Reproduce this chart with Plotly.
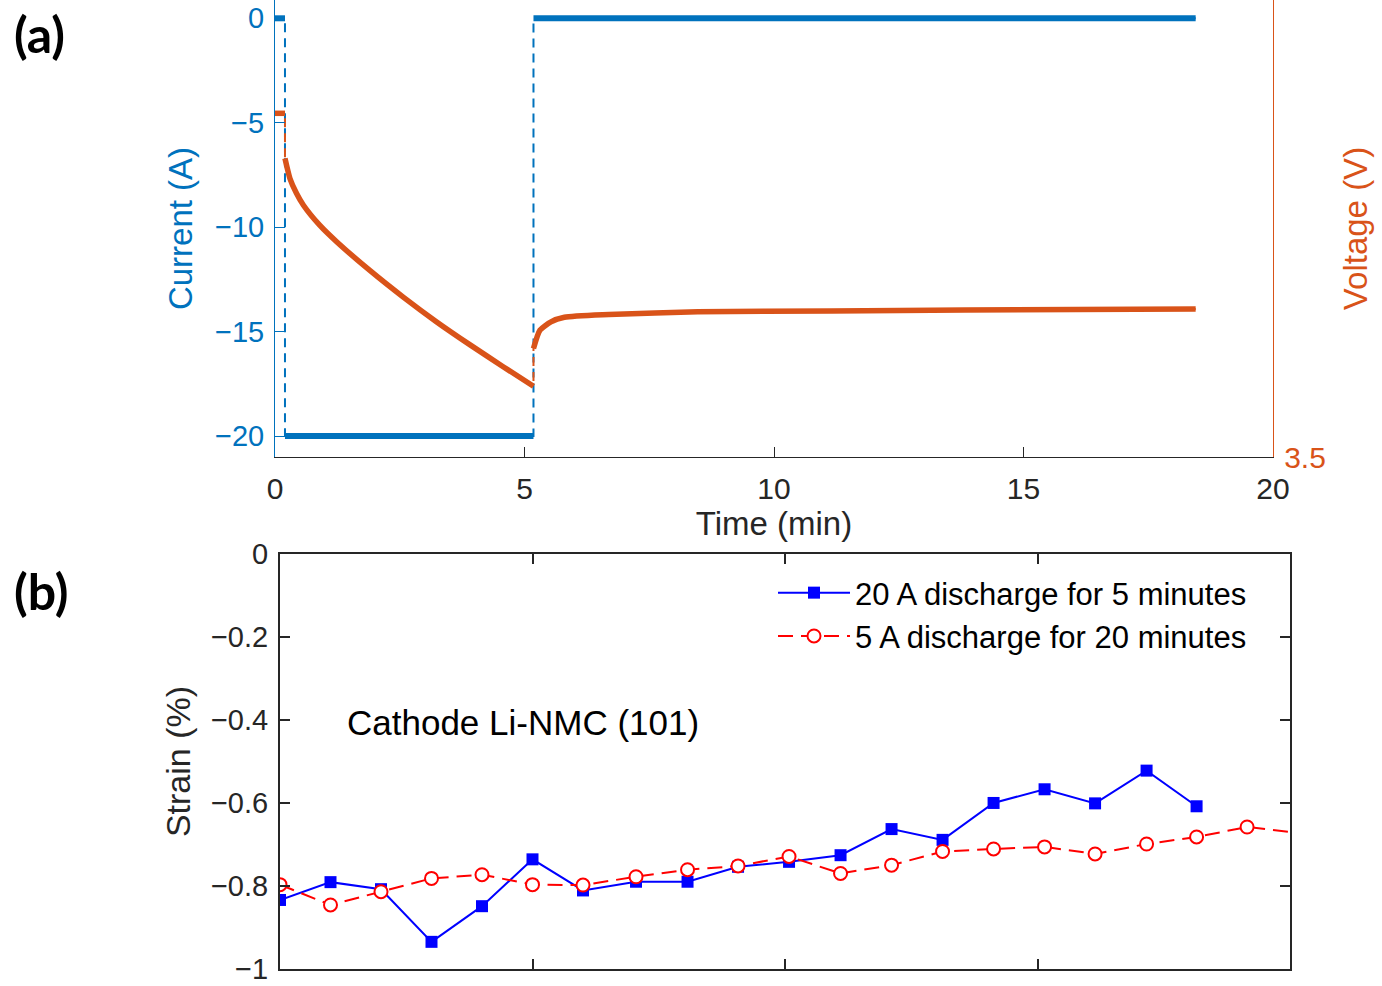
import plotly.graph_objects as go

# ---- (a) current / voltage profile -------------------------------------
cur_time = [0, 0.2, 0.2, 5.18, 5.18, 18.45]          # min
cur_amp = [0, 0, -20, -20, 0, 0]                     # A

volt_time = [0, 0.2, 0.2, 0.30, 0.43, 0.57, 0.90, 1.24, 1.90, 2.57, 3.24,
             3.91, 4.58, 5.18, 5.18, 5.31, 5.53, 5.80, 6.69, 8.47, 11.14,
             13.82, 18.45]
volt_val = [3.874, 3.874, 3.825, 3.803, 3.787, 3.774, 3.752, 3.734, 3.703,
            3.674, 3.647, 3.622, 3.598, 3.577, 3.618, 3.638, 3.647, 3.652,
            3.655, 3.658, 3.659, 3.660, 3.661]
# index ranges of the continuous stretches between current steps
volt_segments = [(0, 1), (2, 13), (14, 22)]

# ---- (b) lattice strain ------------------------------------------------
strain_time = [0, 1.0, 2.0, 3.0, 4.0, 5.0, 6.0, 7.05, 8.07, 9.07, 10.08,
               11.1, 12.11, 13.12, 14.13, 15.14, 16.14, 17.16, 18.15]
strain_20A = [-0.834, -0.791, -0.808, -0.935, -0.849, -0.736, -0.811, -0.790,
              -0.790, -0.754, -0.742, -0.726, -0.663, -0.689, -0.600, -0.567,
              -0.601, -0.522, -0.608]
strain_time_5A = strain_time + [19.15, 20.16]
strain_5A = [-0.797, -0.846, -0.814, -0.782, -0.773, -0.797, -0.798, -0.778,
             -0.761, -0.752, -0.729, -0.770, -0.750, -0.717, -0.711, -0.706,
             -0.723, -0.699, -0.682, -0.658, -0.672]
strain_ticks = [0, -0.2, -0.4, -0.6, -0.8, -1]

BLUE = "#0072BD"
ORANGE = "#D95319"
DARK = "#262626"
FONT = "Liberation Sans, Arial, sans-serif"

W, H = 1382, 986
def px_x(p):
    return p / W
def px_y(p):
    return 1 - p / H

fig = go.Figure()

# current: dashed connection through the steps, heavy line on the plateaus
fig.add_trace(go.Scatter(x=cur_time, y=cur_amp, mode="lines",
                         line=dict(color=BLUE, width=2, dash="9px,6px"),
                         xaxis="x", yaxis="y", showlegend=False))
seg_x, seg_y = [], []
for i in range(0, len(cur_time), 2):
    seg_x += [cur_time[i], cur_time[i + 1], None]
    seg_y += [cur_amp[i], cur_amp[i + 1], None]
fig.add_trace(go.Scatter(x=seg_x, y=seg_y, mode="lines",
                         line=dict(color=BLUE, width=6),
                         xaxis="x", yaxis="y", showlegend=False))

# voltage on the right-hand axis
fig.add_trace(go.Scatter(x=volt_time, y=volt_val, mode="lines",
                         line=dict(color=ORANGE, width=2, dash="9px,6px"),
                         xaxis="x", yaxis="y2", showlegend=False))
for a, b in volt_segments:
    fig.add_trace(go.Scatter(x=volt_time[a:b + 1], y=volt_val[a:b + 1],
                             mode="lines",
                             line=dict(color=ORANGE, width=5.5, shape="spline",
                                       smoothing=0.6),
                             xaxis="x", yaxis="y2", showlegend=False))

# strain series
fig.add_trace(go.Scatter(x=strain_time, y=strain_20A, mode="lines+markers",
                         name="20 A discharge for 5 minutes",
                         line=dict(color="#0000FF", width=2),
                         marker=dict(symbol="square", size=12, color="#0000FF"),
                         xaxis="x2", yaxis="y3"))
fig.add_trace(go.Scatter(x=strain_time_5A, y=strain_5A, mode="lines+markers",
                         name="5 A discharge for 20 minutes",
                         line=dict(color="#FF0000", width=2, dash="15px,8px"),
                         marker=dict(symbol="circle", size=13, color="white",
                                     line=dict(color="#FF0000", width=2)),
                         xaxis="x2", yaxis="y3"))

top_dom = [px_y(457), 1]
bot_dom = [px_y(969), px_y(554)]

fig.update_layout(
    width=W, height=H,
    margin=dict(l=0, r=0, t=0, b=0, autoexpand=False),
    paper_bgcolor="white", plot_bgcolor="white",
    font=dict(family=FONT, size=30, color=DARK),
    xaxis=dict(domain=[px_x(275), px_x(1273)], range=[0, 20],
               tickvals=[0, 5, 10, 15, 20], ticks="inside", ticklen=10,
               tickcolor=DARK, showline=True, linecolor=DARK, linewidth=1,
               showgrid=False, zeroline=False, anchor="y", automargin=False,
               tickfont=dict(size=30, color=DARK), ticklabelstandoff=5,
               title=dict(text="Time (min)", font=dict(size=33, color=DARK),
                          standoff=0)),
    yaxis=dict(domain=top_dom, range=[-21, 0.876],
               tickvals=[0, -5, -10, -15, -20], ticks="inside", ticklen=10,
               tickcolor=BLUE, showline=True, linecolor=BLUE, linewidth=1,
               showgrid=False, zeroline=False, anchor="x", automargin=False,
               tickfont=dict(size=29, color=BLUE), ticklabelstandoff=4,
               title=dict(text="Current (A)", font=dict(size=33, color=BLUE),
                          standoff=12)),
    yaxis2=dict(overlaying="y", side="right", range=[3.5, 3.9973],
                tickvals=[3.5, 4.0], ticktext=["3.5", "4"], ticks="inside",
                ticklen=10, tickcolor=ORANGE, showline=True,
                linecolor=ORANGE, linewidth=1.3, showgrid=False,
                zeroline=False, anchor="x", automargin=False,
                ticklabeloverflow="allow",
                tickfont=dict(size=30, color=ORANGE), ticklabelstandoff=4,
                title=dict(text="Voltage (V)", font=dict(size=33, color=ORANGE),
                           standoff=19)),
    xaxis2=dict(domain=[px_x(280), px_x(1290)], range=[0, 20],
                tickvals=[5, 10, 15], showticklabels=False, ticks="inside",
                ticklen=10, tickcolor=DARK, tickwidth=2, showline=True,
                linecolor=DARK, linewidth=2, mirror="ticks", showgrid=False,
                zeroline=False, anchor="y3", automargin=False),
    yaxis3=dict(domain=bot_dom, range=[-1.0005, 0.0005], tickvals=strain_ticks,
                ticks="inside", ticklabeloverflow="allow",
                ticklen=10, tickcolor=DARK, tickwidth=2, showline=True,
                linecolor=DARK, linewidth=2, mirror="ticks", showgrid=False,
                zeroline=False, anchor="x2", automargin=False,
                tickfont=dict(size=29, color=DARK), ticklabelstandoff=4,
                title=dict(text="Strain (%)", font=dict(size=34, color=DARK),
                           standoff=10)),
    legend=dict(x=px_x(1252), y=px_y(566), xanchor="right", yanchor="top",
                bgcolor="rgba(0,0,0,0)", borderwidth=0,
                font=dict(size=31, color="black"), itemwidth=72,
                tracegroupgap=0),
)

fig.add_annotation(x=1.29, y=-0.405, xref="x2", yref="y3", text="Cathode Li-NMC (101)",
                   showarrow=False, xanchor="left", yanchor="middle",
                   font=dict(size=35, color="black"))
fig.add_annotation(x=px_x(12), y=px_y(34), xref="paper", yref="paper", text="<b>(a)</b>",
                   showarrow=False, xanchor="left", yanchor="middle",
                   font=dict(family="Lato, Open Sans, sans-serif", size=50, color="black"))
fig.add_annotation(x=px_x(12), y=px_y(591), xref="paper", yref="paper", text="<b>(b)</b>",
                   showarrow=False, xanchor="left", yanchor="middle",
                   font=dict(family="Lato, Open Sans, sans-serif", size=50, color="black"))

fig.write_html("out.html")
